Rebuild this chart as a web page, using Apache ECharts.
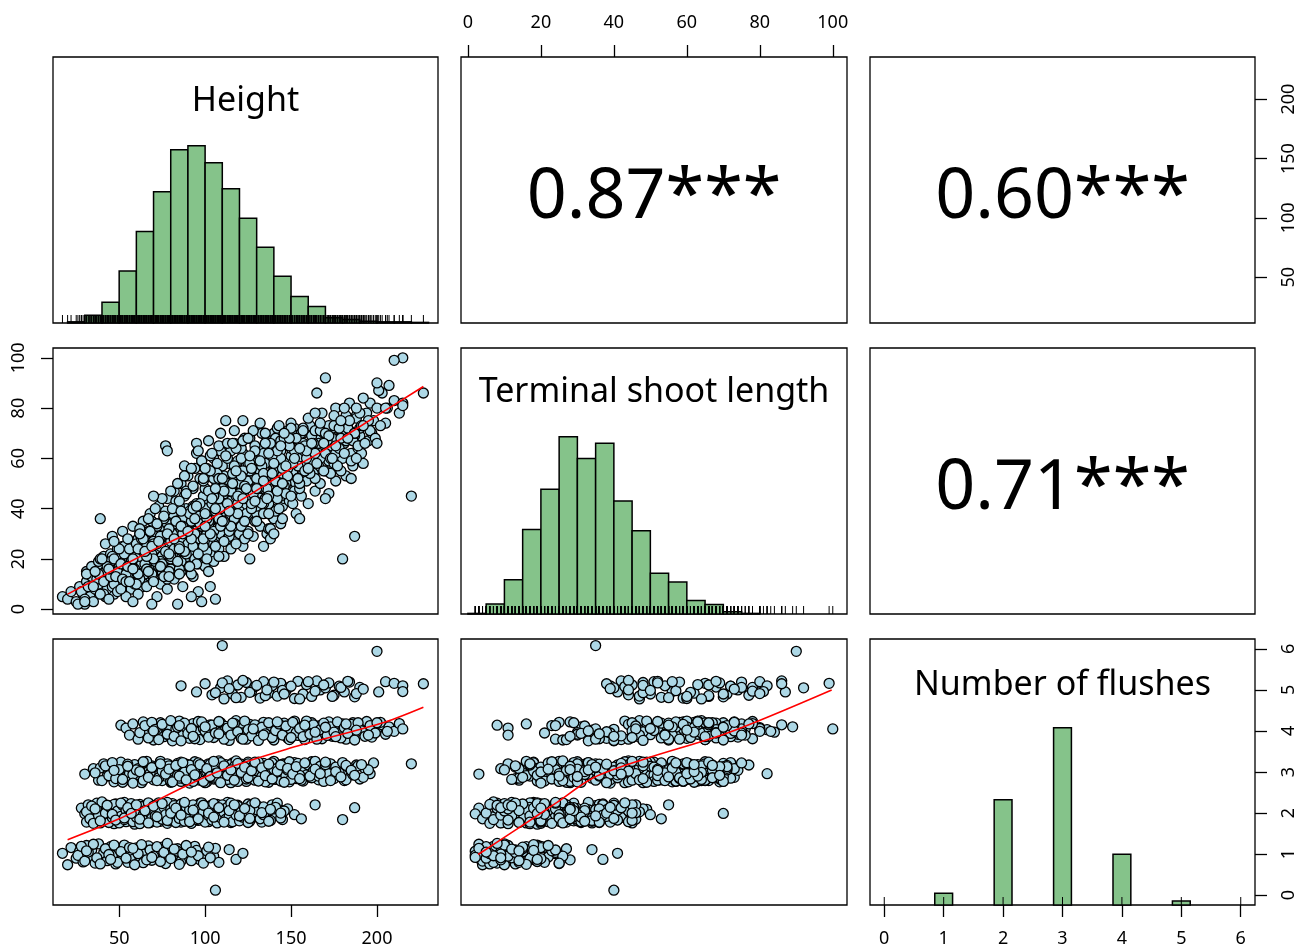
<!DOCTYPE html>
<html><head><meta charset="utf-8">
<script src="https://cdn.jsdelivr.net/npm/echarts@6/dist/echarts.min.js"></script>
<style>html,body{margin:0;padding:0;background:#fff}#c{width:1301px;height:950px}</style>
</head><body><div id="c"></div>
<script>
// ---------------- data ----------------
const varNames = ['Height', 'Terminal shoot length', 'Number of flushes'];
const corrLabels = ['0.87***', '0.60***', '0.71***'];
const heightTicks = [50, 100, 150, 200];
const tslTicks = [0, 20, 40, 60, 80, 100];
const flushTicks = [0, 1, 2, 3, 4, 5, 6];

const heightBreaks = [20,30,40,50,60,70,80,90,100,110,120,130,140,150,160,170,180,190,200,210,220,230];
const heightCounts = [2,13,35,88,155,222,293,300,271,227,177,128,79,45,28,9,6,3,2,2,1];
const tslBreaks = [0,5,10,15,20,25,30,35,40,45,50,55,60,65,70,75,80,85,90,95,100];
const tslCounts = [1,17,58,143,211,300,263,289,191,141,69,54,23,16,4,1,0,0,0,0];
const flushLevels = [1, 2, 3, 4, 5];
const flushCounts = [66, 594, 1000, 286, 22];
const flushRugLevels = [0, 1, 2, 3, 4, 5, 6];

// trees: [height, terminal shoot length, number of flushes (jittered)]
const treesF0 = [[106,40,0.12]];
const treesF1 = [[17,5,1.02],[20,4,0.74],[22,7,1.16],[25,3,0.9],[27,9,1.07],[29,6,0.81],[31,11,1.21],[33,5,0.95],[34,13,1.1],[36,8,0.78],[38,10,1.25],[40,14,0.88],[41,6,1.03],[43,12,0.84],[45,16,1.18],[46,9,0.97],[48,13,0.76],[50,17,1.12],[52,11,0.92],[53,19,1.22],[55,14,0.8],[57,8,1.05],[58,18,0.87],[60,21,1.15],[62,12,0.94],[64,16,0.79],[65,23,1.09],[67,19,1.2],[69,14,0.85],[71,24,1.01],[73,17,0.9],[75,21,1.17],[77,25,0.77],[79,15,1.06],[81,22,0.93],[84,27,1.13],[84,2,1.07],[86,19,0.83],[88,24,1.04],[91,26,0.9],[94,20,1.19],[97,28,0.86],[98,3,0.93],[101,23,1.08],[105,26,0.95],[106,4,1.14],[108,21,0.8],[114,34,1.11],[118,37,0.87],[122,41,1.02],
  [26,2,0.97],[28,7,1.19],[30,4,0.83],[32,9,1.05],[35,3,1.24],[37,12,0.91],[39,6,0.76],[42,15,1.13],[44,4,0.99],[47,10,1.22],[49,7,0.8],[51,14,1.06],[54,5,0.9],[56,20,1.16],[59,10,0.74],[61,6,1.01],[63,18,1.23],[66,9,0.86],[68,24,1.1],[70,11,0.95],[72,5,1.18],[74,19,0.82],[76,13,1.04],[78,8,1.26],[80,20,0.89],[82,12,1.12],[85,16,0.75],[87,9,1.0],[89,22,1.21],[92,14,0.84],[95,18,1.09],[96,7,0.96],[99,25,0.78],[102,15,1.17],[103,9,0.91],[31,14,1.08],[45,19,0.87],[58,3,1.14],[69,2,0.92],[92,5,1.05]];
const treesF2 = [[28,3,2.12],[30,2,1.98],[31,9,1.78],[32,12,2.2],[33,7,1.91],[35,10,2.05],[36,14,1.84],[37,8,2.24],[38,12,1.95],[39,16,1.76],[40,11,2.14],[41,9,1.88],[42,15,2.02],[43,18,1.8],[44,12,2.18],[45,14,1.93],[46,10,2.08],[47,17,1.74],[48,20,2.22],[49,13,1.97],[50,16,1.83],[51,22,2.11],[52,14,1.9],[53,18,2.26],[54,11,1.79],[55,20,2.04],[56,16,1.87],[57,24,2.16],[58,13,1.95],[59,19,1.73],[60,22,2.09],[61,17,1.86],[62,26,2.21],[63,15,1.99],[64,21,1.81],[65,18,2.13],[66,24,1.92],[67,12,2.06],[68,20,1.77],[69,27,2.19],[70,17,1.94],[71,23,1.85],[72,30,2.1],[73,19,2.25],[74,25,1.8],[75,15,2.0],[76,22,1.89],[77,28,2.15],[78,20,1.75],[79,33,2.07],[80,24,1.96],[81,18,2.23],[82,26,1.83],[83,30,2.03],[84,22,1.9],[85,35,2.17],[86,27,1.78],[87,19,2.08],[88,31,1.94],[89,25,2.2],[90,29,1.85],[91,22,2.01],[92,34,1.76],[93,27,2.14],[94,31,1.92],[95,24,2.05],[96,36,1.82],[97,29,2.24],[98,33,1.97],[99,21,2.1],[100,38,1.88],[101,30,2.02],[102,26,1.79],[103,35,2.18],[104,32,1.93],[105,40,2.07],[106,28,1.84],[107,36,2.21],[108,31,1.96],[109,42,2.04],[110,34,1.8],[111,27,2.15],[112,38,1.9],[113,33,2.26],[114,44,1.98],[115,36,1.77],[116,30,2.11],[117,41,1.87],[118,35,2.03],[119,46,2.19],[120,39,1.83],[122,33,2.08],[123,43,1.94],[125,37,2.22],[126,45,1.8],[128,40,2.06],[129,35,1.91],[131,44,2.16],[133,39,1.78],[135,46,2.02],[137,42,1.89],[139,37,2.2],[140,70,1.99],[141,45,1.95],[143,49,2.09],[145,41,1.84],[148,48,2.1],[152,50,1.96],[156,53,1.86],[164,55,2.2],[180,20,1.84],[187,29,2.13],
  [31,15,2.03],[33,4,1.86],[34,17,2.17],[35,6,1.75],[37,13,2.09],[38,19,1.94],[40,7,2.27],[41,21,1.82],[42,5,2.0],[44,9,1.77],[45,22,2.13],[46,16,1.89],[47,6,2.21],[49,24,2.05],[50,9,1.76],[51,18,1.92],[52,25,2.19],[53,7,1.84],[54,16,2.07],[56,27,1.98],[57,10,2.23],[58,22,1.79],[59,8,2.11],[60,15,1.9],[61,28,2.02],[62,11,1.74],[63,24,2.16],[64,9,1.95],[66,30,1.82],[67,17,2.25],[68,13,2.0],[69,23,1.87],[70,32,2.12],[71,12,1.93],[72,20,1.78],[73,27,2.2],[74,10,2.05],[75,33,1.85],[76,17,2.14],[77,24,1.96],[78,12,2.26],[79,29,1.81],[80,16,2.09],[81,35,1.91],[82,21,2.18],[83,14,1.77],[84,38,2.04],[85,26,1.87],[86,15,2.22],[87,32,1.98],[88,20,1.8],[89,40,2.15],[90,17,1.93],[91,35,2.08],[92,23,1.75],[93,13,2.2],[94,39,1.99],[95,30,1.84],[96,18,2.12],[97,42,1.9],[98,26,2.25],[99,36,2.03],[100,17,1.78],[101,44,2.16],[102,33,1.94],[103,22,2.07],[104,41,1.83],[105,19,2.23],[106,37,1.97],[107,45,1.76],[108,24,2.1],[109,30,1.89],[110,43,2.2],[111,21,2.01],[112,46,1.85],[113,28,2.14],[114,38,1.92],[115,24,2.24],[116,44,1.79],[117,32,2.06],[118,27,1.95],[119,40,2.17],[120,30,1.81],[121,47,2.03],[122,25,1.9],[124,42,2.12],[125,31,1.77],[127,46,2.2],[128,29,1.93],[130,38,2.08],[132,33,1.86],[134,42,2.15],[136,30,1.97],[138,45,1.82],[140,36,2.1],[142,40,2.24],[144,34,1.88],[146,44,2.05],[134,25,1.96],[126,20,2.06],
  [36,11,2.1],[39,20,1.81],[43,8,2.19],[46,21,1.97],[48,11,1.83],[51,13,2.24],[53,25,1.88],[55,9,2.13],[57,19,1.99],[60,11,2.2],[62,30,1.85],[65,14,2.06],[67,26,1.76],[70,12,2.17],[72,29,1.91],[75,21,2.23],[78,34,1.82],[80,28,2.0],[83,20,2.12],[86,37,1.95],[88,24,2.26],[91,31,1.79],[93,41,2.07],[96,28,1.86],[99,40,2.19],[102,38,2.0],[105,31,1.9],[108,42,2.13],[111,36,1.78],[114,29,2.06],[117,45,2.2],[120,35,1.93],[123,28,2.11],[126,40,1.87],[129,43,2.25],[133,46,2.01],[137,32,1.8],[141,39,2.14],[144,45,2.0],[138,28,2.09]];
const treesF3 = [[30,3,2.95],[35,9,3.08],[38,14,2.8],[39,36,3.1],[41,11,3.2],[43,17,2.9],[45,13,3.12],[47,20,2.76],[49,15,3.03],[51,18,3.24],[53,22,2.86],[54,14,3.1],[56,24,2.97],[57,19,2.78],[59,16,3.18],[60,26,2.92],[62,21,3.06],[63,28,2.74],[65,18,3.22],[66,25,2.88],[67,31,3.01],[69,22,3.15],[70,27,2.81],[71,19,3.09],[72,33,2.94],[74,25,3.26],[75,29,2.79],[76,36,3.04],[77,23,2.9],[79,31,3.17],[80,27,2.75],[81,38,3.0],[82,24,3.13],[83,34,2.85],[84,30,3.21],[85,41,2.96],[86,28,2.77],[87,36,3.07],[88,45,2.89],[89,32,3.19],[90,26,2.98],[91,39,2.73],[92,35,3.11],[93,48,2.87],[94,30,3.25],[95,42,2.93],[96,37,3.05],[97,52,2.8],[98,33,3.16],[99,45,2.91],[100,40,3.02],[101,56,2.76],[102,35,3.2],[103,47,2.97],[104,42,3.09],[105,60,2.83],[106,38,3.14],[107,50,2.9],[108,44,3.27],[109,63,2.78],[110,40,3.03],[111,53,2.95],[112,47,3.18],[113,36,2.86],[114,58,3.07],[115,43,2.74],[116,51,3.22],[117,66,2.92],[118,45,3.0],[119,55,3.13],[120,39,2.81],[121,49,3.19],[122,62,2.89],[123,44,3.06],[124,57,2.77],[125,51,3.24],[126,68,2.94],[127,46,3.1],[128,60,2.85],[129,53,3.01],[130,41,3.17],[131,64,2.79],[132,55,3.08],[133,48,2.96],[134,70,3.21],[135,58,2.88],[136,51,3.04],[137,62,2.75],[138,45,3.15],[139,67,2.93],[140,56,3.26],[141,60,2.82],[142,50,3.09],[143,71,2.97],[144,63,3.12],[145,54,2.8],[146,66,3.2],[147,58,2.9],[148,48,3.05],[149,69,2.76],[150,61,3.14],[151,55,2.99],[152,72,3.23],[153,64,2.84],[154,52,3.07],[155,67,2.92],[156,59,3.18],[157,70,2.78],[158,62,3.03],[160,56,3.11],[161,73,2.87],[162,65,3.25],[163,60,2.95],[165,68,3.06],[166,57,2.81],[168,71,3.16],[169,63,2.9],[171,67,3.02],[172,59,3.2],[174,72,2.85],[175,65,3.1],[177,61,2.97],[179,70,3.13],[181,66,2.79],[183,74,3.04],[185,62,2.93],[188,77,3.17],[190,69,2.83],[193,73,3.08],[196,82,2.96],[198,75,3.22],[220,45,3.2],
  [36,15,2.98],[40,20,2.79],[42,26,3.15],[44,16,2.91],[46,29,3.23],[48,13,2.84],[50,24,3.06],[52,31,2.75],[55,17,3.19],[58,33,2.94],[61,14,3.08],[64,35,2.8],[66,16,3.26],[68,38,2.97],[70,20,3.12],[73,41,2.86],[75,18,3.02],[78,44,3.2],[80,21,2.78],[82,47,3.1],[84,19,2.92],[86,50,3.24],[88,23,2.83],[90,53,3.05],[91,17,3.17],[93,25,2.77],[94,56,2.99],[96,22,3.22],[98,59,2.88],[99,28,3.11],[100,48,2.74],[101,20,3.0],[103,61,3.19],[104,29,2.87],[105,52,3.09],[106,25,2.96],[108,65,2.79],[109,33,3.23],[110,57,2.93],[111,27,3.13],[113,50,2.82],[114,31,3.04],[115,63,3.18],[117,36,2.9],[118,26,3.27],[119,59,2.77],[120,46,3.1],[121,33,2.95],[123,68,3.06],[124,38,2.83],[125,30,3.2],[126,55,2.98],[128,42,3.14],[129,65,2.8],[130,35,3.03],[131,49,3.24],[133,70,2.89],[134,38,3.07],[135,44,2.76],[136,62,3.16],[138,32,2.94],[139,53,3.22],[140,46,2.85],[141,68,3.0],[143,40,3.12],[144,57,2.78],[145,36,3.19],[147,50,2.91],[148,71,3.05],[149,43,3.25],[150,64,2.82],[152,47,3.1],[153,38,2.97],[154,60,3.21],[156,45,2.8],[157,66,3.08],[159,51,2.93],[160,42,3.17],[162,69,2.86],[163,54,3.03],[164,47,3.26],[166,62,2.9],[167,50,3.14],[169,70,2.77],[170,55,3.06],[172,46,2.96],[173,65,3.2],[175,58,2.84],[176,51,3.12],[178,68,2.98],[180,60,3.23],[182,53,2.81],[184,71,3.09],[186,57,2.94],[189,64,3.15],[192,58,2.87],[195,67,3.05],[88,57,3.0],[95,62,2.9],[79,13,3.15],[85,14,2.85],[60,10,3.05],[117,71,3.13],[102,67,2.86],[140,30,3.07],[155,36,2.92],[170,44,3.18],
  [47,27,3.04],[52,12,2.82],[55,28,3.14],[58,20,2.73],[62,32,3.01],[64,23,3.25],[67,15,2.87],[69,35,3.11],[72,26,2.79],[74,17,3.2],[77,39,2.95],[79,22,3.07],[81,30,2.76],[83,43,3.16],[85,25,2.9],[87,33,3.23],[89,47,2.81],[92,28,3.06],[94,41,2.93],[97,34,3.18],[99,51,2.77],[101,37,3.08],[103,30,2.89],[105,45,3.26],[107,54,2.98],[109,38,2.74],[111,48,3.15],[113,60,2.92],[115,33,3.05],[117,52,2.8],[119,42,3.21],[121,64,2.99],[123,35,3.12],[125,58,2.86],[127,40,3.03],[129,48,3.24],[131,59,2.78],[133,42,3.1],[135,52,2.91],[137,38,3.19],[139,61,2.83],[142,44,3.02],[144,67,3.17],[146,49,2.75],[148,56,3.09],[151,42,2.95],[153,69,3.13],[155,48,2.84],[158,57,3.22],[161,63,2.9],[164,52,3.07],[167,60,2.96],[170,66,3.24],[173,54,2.79],[176,62,3.01],[179,55,2.88],[182,67,3.16],[185,52,3.04],[187,69,2.92],[191,62,3.18]];
const treesF4 = [[51,8,4.14],[54,11,4.07],[56,11,3.9],[58,16,4.17],[61,24,3.8],[64,28,4.22],[66,21,3.95],[68,31,4.1],[70,26,3.78],[72,34,4.02],[74,29,4.2],[76,37,3.86],[77,65,4.1],[78,63,3.92],[79,32,4.12],[81,40,3.76],[83,35,4.05],[85,43,4.24],[87,30,3.9],[89,46,4.08],[91,38,3.82],[93,49,4.18],[95,66,3.97],[96,63,4.23],[97,42,3.79],[99,52,4.06],[101,36,3.93],[103,55,4.15],[105,45,3.84],[107,58,4.01],[109,70,4.2],[110,48,3.88],[112,61,4.11],[114,40,3.77],[116,54,4.03],[118,64,4.25],[120,50,3.91],[122,67,4.09],[124,44,3.8],[126,58,4.16],[128,71,3.95],[130,52,4.04],[132,74,3.85],[134,62,4.21],[136,48,3.98],[138,66,4.13],[140,55,3.78],[142,72,4.07],[144,60,3.92],[146,68,4.19],[148,53,3.83],[150,74,4.02],[152,63,4.24],[154,57,3.89],[156,70,4.1],[158,65,3.79],[160,76,4.05],[162,59,4.2],[164,71,3.93],[166,66,4.12],[168,78,3.81],[170,62,4.0],[172,73,4.22],[174,68,3.87],[176,80,4.08],[178,64,3.95],[180,75,4.17],[182,70,3.8],[184,82,4.03],[186,67,4.2],[188,76,3.9],[190,72,4.11],[192,84,3.97],[194,78,4.23],[197,70,3.85],[200,80,4.06],[203,86,4.15],[205,74,3.92],[207,89,4.1],[210,83,3.99],[213,78,4.18],[215,100,4.05],[112,75,4.05],[122,75,3.95],
  [62,30,3.96],[65,23,4.13],[67,36,3.83],[69,25,4.21],[71,40,4.04],[73,27,3.79],[75,44,4.16],[78,30,3.92],[80,47,4.25],[82,28,3.87],[84,50,4.09],[86,33,3.76],[88,53,4.19],[90,31,3.94],[92,56,4.06],[94,36,3.81],[98,59,4.22],[100,33,4.0],[102,47,3.85],[104,62,4.14],[106,39,3.95],[108,52,4.23],[111,35,3.8],[113,66,4.07],[115,47,3.9],[117,57,4.18],[119,38,3.98],[121,60,3.82],[123,49,4.24],[125,68,4.03],[127,42,3.88],[129,63,4.15],[131,48,3.77],[133,57,4.09],[135,70,3.93],[137,45,4.2],[139,61,3.84],[141,51,4.01],[143,73,4.17],[145,56,3.9],[147,46,4.12],[149,65,3.79],[151,58,4.21],[153,68,3.96],[155,50,4.06],[157,72,3.86],[159,60,4.24],[161,54,3.92],[163,66,4.15],[165,58,3.8],[167,71,4.03],[169,55,4.19],[171,67,3.89],[173,60,4.1],[175,73,3.97],[177,57,4.22],[179,68,3.83],[181,62,4.08],[183,72,3.94],[185,59,4.16],[187,70,3.78],[189,65,4.2],[191,73,4.0],[193,66,3.87],[196,71,4.13],[199,68,3.95],[202,73,4.21],
  [70,45,4.0],[85,24,4.13],[93,40,3.87],[100,56,4.1],[108,36,3.93],[116,66,4.19],[122,55,3.8],[128,46,4.05],[134,54,3.9],[142,63,4.22],[150,45,3.84],[158,55,4.14],[164,62,3.97],[170,70,4.09],[176,65,3.86],[182,77,4.17],[188,60,4.02],[195,75,3.9],[200,66,4.2],[206,80,3.99]];
const treesF5 = [[86,39,5.1],[95,41,4.95],[100,38,5.15],[104,44,4.88],[109,40,5.05],[111,47,4.78],[113,42,5.22],[116,50,4.9],[119,45,5.12],[121,53,4.82],[124,48,5.18],[127,56,4.96],[129,43,5.08],[132,59,4.8],[134,51,5.2],[137,62,4.92],[139,54,5.1],[142,47,4.85],[144,65,5.16],[147,57,4.98],[149,68,5.07],[152,60,4.79],[154,52,5.21],[157,71,4.9],[159,63,5.13],[162,66,4.84],[165,86,5.22],[167,74,5.0],[170,92,5.05],[172,69,5.17],[175,77,4.87],[178,72,5.09],[181,80,4.95],[184,75,5.19],[187,70,4.83],[190,78,5.06],[201,87,4.95],[205,80,5.2],[210,99,5.16],[215,82,5.1],[215,81,4.96],[227,86,5.15],
  [106,48,4.93],[110,52,5.17],[114,39,5.03],[118,55,4.81],[122,44,5.23],[126,61,4.94],[130,48,5.11],[135,66,4.86],[140,58,5.19],[145,50,4.99],[150,72,5.09],[155,64,4.78],[160,56,5.2],[164,78,4.97],[169,66,5.12],[174,60,4.84],[179,75,5.06],[183,68,5.21],[188,80,4.91],[192,73,5.02],[136,44,5.0],[146,70,4.9]];
const treesF6 = [[110,35,6.08],[200,90,5.94]];

// lowess smooths
const smoothHT_h = [20, 70, 89, 108, 128, 147, 167, 186, 227];
const smoothHT_t = [6, 23.7, 29.9, 38, 46.4, 54.7, 62.4, 70.9, 88.6];
const smoothHF_h = [20, 50, 105, 147, 202, 227];
const smoothHF_f = [1.35, 1.86, 2.97, 3.55, 4.18, 4.58];
const smoothTF_t = [2.8, 13.4, 24.4, 34.4, 48.2, 71.1, 99.7];
const smoothTF_f = [0.99, 1.61, 2.26, 2.86, 3.31, 3.95, 5.0];

// ---------------- layout / style ----------------
const trees = [].concat(treesF2, treesF1, treesF3, treesF4, treesF5, treesF0, treesF6);
const FONT = "'Noto Sans', 'DejaVu Sans', sans-serif";
const colL = [53, 461, 870], colW = [385, 386, 385];
const rowT = [57, 348, 639], rowH = 266;
const HR = [11.5, 235.5], TR = [-1.9, 103.9], FR = [-0.24, 6.24], HIST = [0, 1.5];
const mid = r => (r[0] + r[1]) / 2;
const GREEN = '#85C38A';

const grids = [];
for (let r = 0; r < 3; r++) for (let c = 0; c < 3; c++)
  grids.push({left: colL[c], top: rowT[r], width: colW[c], height: rowH, show: true,
    borderColor: '#000', borderWidth: 1.3, backgroundColor: 'transparent', containLabel: false, outerBoundsMode: 'none'});

function ax(gridIndex, range, position, ticks, rotate) {
  const o = {type: 'value', gridIndex, min: range[0], max: range[1], scale: true,
    axisLine: {show: false, onZero: false}, splitLine: {show: false}, axisPointer: {show: false}};
  if (position) o.position = position;
  if (ticks) {
    o.axisTick = {show: true, customValues: ticks, length: 12, inside: false, lineStyle: {color: '#000', width: 1.3}};
    o.axisLabel = {show: true, customValues: ticks, margin: 25, fontSize: 18, color: '#000', fontFamily: FONT, rotate: rotate || 0};
  } else {
    o.axisTick = {show: false};
    o.axisLabel = {show: false};
  }
  return o;
}
const xAxes = [
  ax(0, HR), ax(1, TR, 'top', tslTicks), ax(2, FR),
  ax(3, HR), ax(4, TR), ax(5, FR),
  ax(6, HR, 'bottom', heightTicks), ax(7, TR), ax(8, FR, 'bottom', flushTicks)
];
const yAxes = [
  ax(0, HIST), ax(1, HR), ax(2, HR, 'right', heightTicks, 90),
  ax(3, TR, 'left', tslTicks, 90), ax(4, HIST), ax(5, TR),
  ax(6, FR), ax(7, FR), ax(8, HIST, 'left'), ax(8, FR, 'right', flushTicks, 90)
];

function histSeries(xi, yi, lefts, rights, counts) {
  const m = Math.max.apply(null, counts);
  const data = [];
  counts.forEach((c, i) => { if (c > 0) data.push([lefts[i], rights[i], c / m]); });
  return {type: 'custom', xAxisIndex: xi, yAxisIndex: yi, z: 2, silent: true, data,
    renderItem(params, api) {
      const p0 = api.coord([api.value(0), 0]), p1 = api.coord([api.value(1), api.value(2)]);
      return {type: 'rect', shape: {x: p0[0], y: p1[1], width: p1[0] - p0[0], height: p0[1] - p1[1]},
        style: {fill: GREEN, stroke: '#000', lineWidth: 1.5}};
    }};
}
function rugSeries(xi, yi, vals) {
  return {type: 'custom', xAxisIndex: xi, yAxisIndex: yi, z: 3, silent: true,
    data: vals.map(v => [v, 0]),
    renderItem(params, api) {
      const p = api.coord([api.value(0), 0]);
      return {type: 'line', shape: {x1: p[0], y1: p[1], x2: p[0], y2: p[1] - 8}, style: {stroke: '#000', lineWidth: 1}};
    }};
}
function pointsSeries(xi, yi, data) {
  return {type: 'scatter', xAxisIndex: xi, yAxisIndex: yi, z: 2, silent: true, large: false,
    symbol: 'circle', symbolSize: 10, data,
    itemStyle: {color: '#ADD8E6', borderColor: '#000', borderWidth: 1.3, opacity: 1}};
}
function smoothSeries(xi, yi, xs, ys) {
  return {type: 'line', xAxisIndex: xi, yAxisIndex: yi, z: 4, silent: true, smooth: 0.3,
    showSymbol: false, data: xs.map((x, i) => [x, ys[i]]), lineStyle: {color: '#FF0000', width: 1.6}};
}
function textSeries(xi, yi, x, y, text, size, dy) {
  return {type: 'scatter', xAxisIndex: xi, yAxisIndex: yi, z: 5, silent: true, symbolSize: 1,
    itemStyle: {color: 'rgba(0,0,0,0)', opacity: 1}, data: [[x, y]],
    label: {show: true, position: 'inside', formatter: text, fontSize: size, color: '#000', opacity: 1,
      offset: [0, dy || 0], fontFamily: FONT, align: 'center', verticalAlign: 'middle'}};
}

const series = [
  histSeries(0, 0, heightBreaks.slice(0, -1), heightBreaks.slice(1), heightCounts),
  rugSeries(0, 0, trees.map(t => t[0])),
  textSeries(0, 0, mid(HR), 1.25, varNames[0], 34),
  textSeries(1, 1, mid(TR), mid(HR), corrLabels[0], 70, 8),
  textSeries(2, 2, mid(FR), mid(HR), corrLabels[1], 70, 8),
  pointsSeries(3, 3, trees.map(t => [t[0], t[1]])),
  smoothSeries(3, 3, smoothHT_h, smoothHT_t),
  histSeries(4, 4, tslBreaks.slice(0, -1), tslBreaks.slice(1), tslCounts),
  rugSeries(4, 4, trees.map(t => t[1])),
  textSeries(4, 4, mid(TR), 1.25, varNames[1], 34),
  textSeries(5, 5, mid(FR), mid(TR), corrLabels[2], 70, 8),
  pointsSeries(6, 6, trees.map(t => [t[0], t[2]])),
  smoothSeries(6, 6, smoothHF_h, smoothHF_f),
  pointsSeries(7, 7, trees.map(t => [t[1], t[2]])),
  smoothSeries(7, 7, smoothTF_t, smoothTF_f),
  histSeries(8, 8, flushLevels.map(v => v - 0.15), flushLevels.map(v => v + 0.15), flushCounts),
  rugSeries(8, 8, flushRugLevels),
  textSeries(8, 8, mid(FR), 1.24, varNames[2], 34)
];

const chart = echarts.init(document.getElementById('c'), null, {renderer: 'canvas'});
chart.setOption({animation: false, backgroundColor: '#fff', grid: grids, xAxis: xAxes, yAxis: yAxes, series});
</script></body></html>
